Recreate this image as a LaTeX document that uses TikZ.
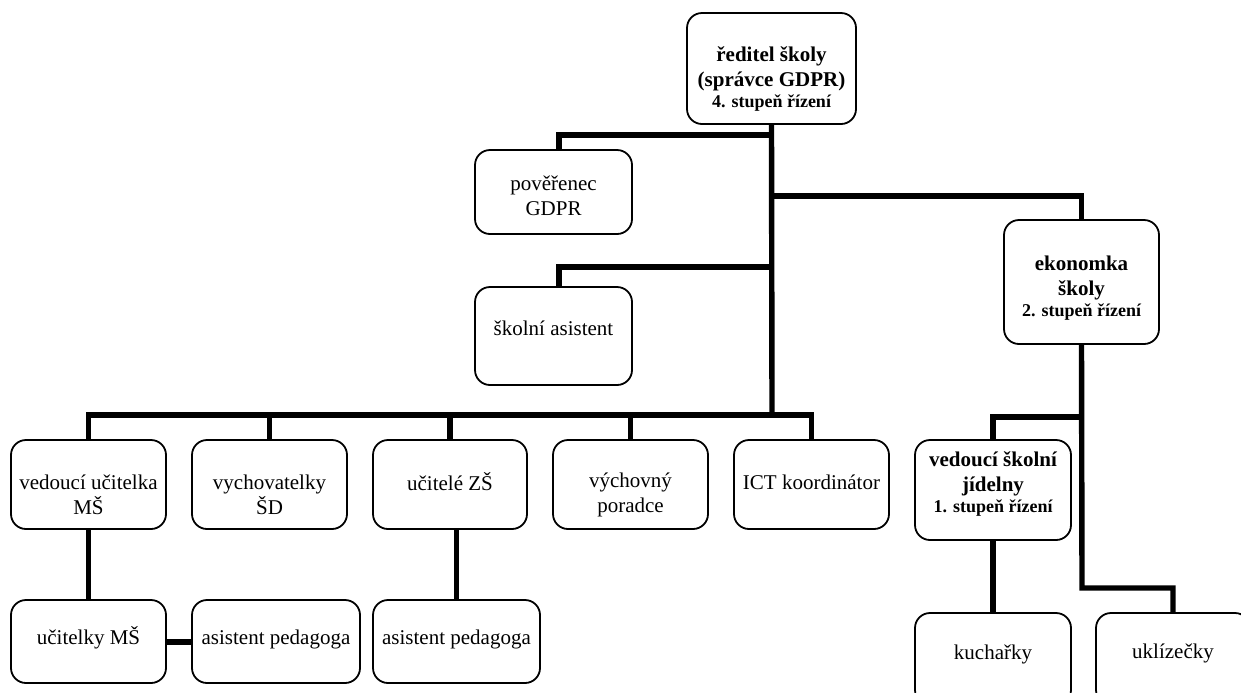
\documentclass[tikz,border=0pt]{standalone}
\usepackage{fontspec}
\setmainfont{Liberation Serif}
\usepackage{tikz}

\begin{document}
\begin{tikzpicture}[x=0.5pt, y=-0.5pt,
	ram/.style={draw, line width=0.9pt, rounded corners=7.5pt, inner sep=0pt},
	popis/.style={align=center, inner sep=0pt, font=\fontsize{10.5}{12.5}\selectfont},
	tucne/.style={popis, font=\fontsize{10.5}{12.5}\selectfont\bfseries},
	vazba/.style={line width=2.7pt}]
				\useasboundingbox (0,0) rectangle (1241,692);
				\clip (0,0) rectangle (1241,692);
				
				% vedeni
				\node[ram, minimum width=84.5pt, minimum height=55.5pt] (reditel) at (771.5, 68.5) {};
				\node[tucne] (Treditel) at (771.5, 79) {ředitel školy\\(správce GDPR)\\[-2pt]{\fontsize{9}{10.5}\selectfont 4. stupeň řízení}};
				
				\node[ram, minimum width=78.5pt, minimum height=42pt] (poverenec) at (553.5, 192) {};
				\node[popis] (Tpoverenec) at (553.5, 196) {pověřenec\\GDPR};
				
				\node[ram, minimum width=78.5pt, minimum height=49pt] (skolniasistent) at (553.5, 336) {};
				\node[popis] (Tskolniasistent) at (553.5, 328) {školní asistent};
				
				\node[ram, minimum width=77.5pt, minimum height=62pt] (ekonomka) at (1081.5, 282) {};
				\node[tucne] (Tekonomka) at (1081.5, 288) {ekonomka\\školy\\[-2pt]{\fontsize{9}{10.5}\selectfont 2. stupeň řízení}};
				
				% prostredni rada
				\node[ram, minimum width=77.5pt, minimum height=44.5pt] (vedouci) at (88.5, 484.5) {};
				\node[popis] (Tvedouci) at (88.5, 495) {vedoucí učitelka\\MŠ};
				
				\node[ram, minimum width=77.5pt, minimum height=44.5pt] (vychovatelky) at (269.5, 484.5) {};
				\node[popis] (Tvychovatelky) at (269.5, 495) {vychovatelky\\ŠD};
				
				\node[ram, minimum width=77pt, minimum height=44.5pt] (ucitele) at (450, 484.5) {};
				\node[popis] (Tucitele) at (450, 482) {učitelé ZŠ};
				
				\node[ram, minimum width=77.5pt, minimum height=44.5pt] (vychovny) at (630.5, 484.5) {};
				\node[popis] (Tvychovny) at (630.5, 495) {výchovný\\poradce};
				
				\node[ram, minimum width=77.5pt, minimum height=44.5pt] (ict) at (811.5, 484.5) {};
				\node[popis] (Tict) at (811.5, 482) {ICT koordinátor};
				
				\node[ram, minimum width=78pt, minimum height=50pt] (jidelna) at (993, 490) {};
				\node[tucne] (Tjidelna) at (993, 484) {vedoucí školní\\jídelny\\[-2pt]{\fontsize{9}{10.5}\selectfont 1. stupeň řízení}};
				
				% spodni rada
				\node[ram, minimum width=77.5pt, minimum height=41.5pt] (ucitelkyMS) at (88.5, 641.5) {};
				\node[popis] (TucitelkyMS) at (88.5, 638) {učitelky MŠ};
				
				\node[ram, minimum width=84pt, minimum height=41.5pt] (asistentA) at (276, 641.5) {};
				\node[popis] (TasistentA) at (276, 639) {asistent pedagoga};
				
				\node[ram, minimum width=83.5pt, minimum height=41.5pt] (asistentB) at (456.5, 641.5) {};
				\node[popis] (TasistentB) at (456.5, 639) {asistent pedagoga};
				
				\node[ram, minimum width=78pt, minimum height=46pt] (kucharky) at (993, 659) {};
				\node[popis] (Tkucharky) at (993, 654) {kuchařky};
				
				\node[ram, minimum width=77pt, minimum height=46pt] (uklizecky) at (1173, 659) {};
				\node[popis] (Tuklizecky) at (1173, 653) {uklízečky};
				
				% spojnice
				\coordinate (sbernice) at (772, 415);
				\coordinate (odbocka1) at (772, 135);
				\coordinate (odbocka2) at (772, 196);
				\coordinate (odbocka3) at (772, 267);
				\coordinate (kmen) at (1082, 417);
				\coordinate (zlom) at (1082, 588);
				
				\draw[vazba] (reditel.south) -- (sbernice);
				\draw[vazba] ([xshift=2.75pt]poverenec.north) |- (odbocka1);
				\draw[vazba] ([xshift=2.75pt]skolniasistent.north) |- (odbocka3);
				\draw[vazba] (odbocka2) -| (ekonomka.north);
				\foreach \n in {vedouci,vychovatelky,ucitele,vychovny,ict}
					\draw[vazba] (sbernice) -| (\n.north);
				
				\draw[vazba] (vedouci.south) -- (ucitelkyMS.north);
				\draw[vazba] (asistentB.north) -- (asistentB.north |- ucitele.south);
				\draw[line width=3pt] (ucitelkyMS.east) -- (asistentA.west);
				
				\draw[vazba] (ekonomka.south) -- (zlom) -| (uklizecky.north);
				\draw[vazba] (kmen) -| (jidelna.north);
				\draw[vazba] (jidelna.south) -- (kucharky.north);

			\end{tikzpicture}
\end{document}
